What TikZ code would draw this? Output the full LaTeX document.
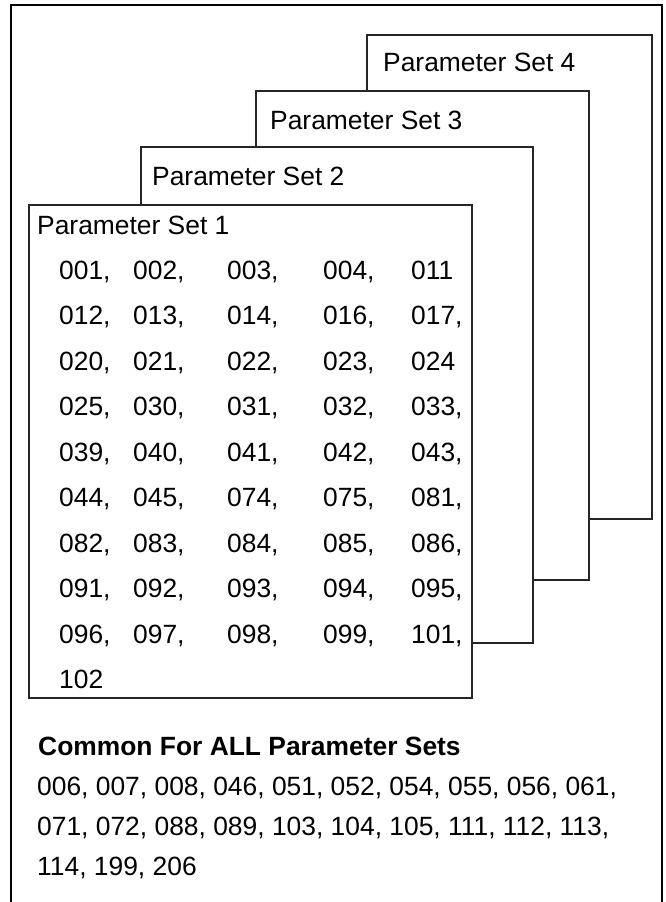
\documentclass[tikz,border=0pt]{standalone}
\usepackage{fontspec}
\setmainfont{Liberation Sans}
\newcommand\prow[6]{%
  \pgfmathsetmacro\yy{279+45.5*(#1-1)}%
  \node[txt] (n#1a) at (59,\yy) {#2};
  \node[txt] (n#1b) at (133,\yy) {#3};
  \node[txt] (n#1c) at (227,\yy) {#4};
  \node[txt] (n#1d) at (323,\yy) {#5};
  \node[txt] (n#1e) at (411,\yy) {#6};
}
\begin{document}
\begin{tikzpicture}[x=1pt,y=-1pt,
  setbox/.style={draw=black!85,line width=1.3pt,fill=white},
  txt/.style={anchor=base west,inner sep=0pt,font=\fontsize{26.4}{30}\selectfont},
  btxt/.style={txt,font=\fontsize{26.4}{30}\selectfont\bfseries}]
\useasboundingbox (0,0) rectangle (665,902);
% outer frame (open at the bottom)
\coordinate (fbl) at (11,910);
\coordinate (ftl) at (11,5);
\coordinate (ftr) at (662,5);
\coordinate (fbr) at (662,910);
\draw[line width=2.2pt] (fbl) -- (ftl) -- (ftr) -- (fbr);
% stacked parameter set sheets
\path[setbox] (367,35) rectangle (652,519);
\path[setbox] (256,91) rectangle (589,580);
\path[setbox] (141,147) rectangle (533,643);
\path[setbox] (29,205) rectangle (472,698);
\node[txt] (h4) at (383,71) {Parameter Set 4};
\node[txt] (h3) at (270,129) {Parameter Set 3};
\node[txt] (h2) at (152,185) {Parameter Set 2};
\node[txt] (h1) at (37,234) {Parameter Set 1};
% parameter numbers of set 1
\prow{1}{001,}{002,}{003,}{004,}{011}
\prow{2}{012,}{013,}{014,}{016,}{017,}
\prow{3}{020,}{021,}{022,}{023,}{024}
\prow{4}{025,}{030,}{031,}{032,}{033,}
\prow{5}{039,}{040,}{041,}{042,}{043,}
\prow{6}{044,}{045,}{074,}{075,}{081,}
\prow{7}{082,}{083,}{084,}{085,}{086,}
\prow{8}{091,}{092,}{093,}{094,}{095,}
\prow{9}{096,}{097,}{098,}{099,}{101,}
\node[txt] (n10a) at (59,688.5) {102};
% common parameters
\node[btxt] (ctitle) at (38,755) {Common For ALL Parameter Sets};
\node[txt] (c1) at (37,795) {006, 007, 008, 046, 051, 052, 054, 055, 056, 061,};
\node[txt] (c2) at (37,835) {071, 072, 088, 089, 103, 104, 105, 111, 112, 113,};
\node[txt] (c3) at (37,875) {114, 199, 206};
\end{tikzpicture}
\end{document}
